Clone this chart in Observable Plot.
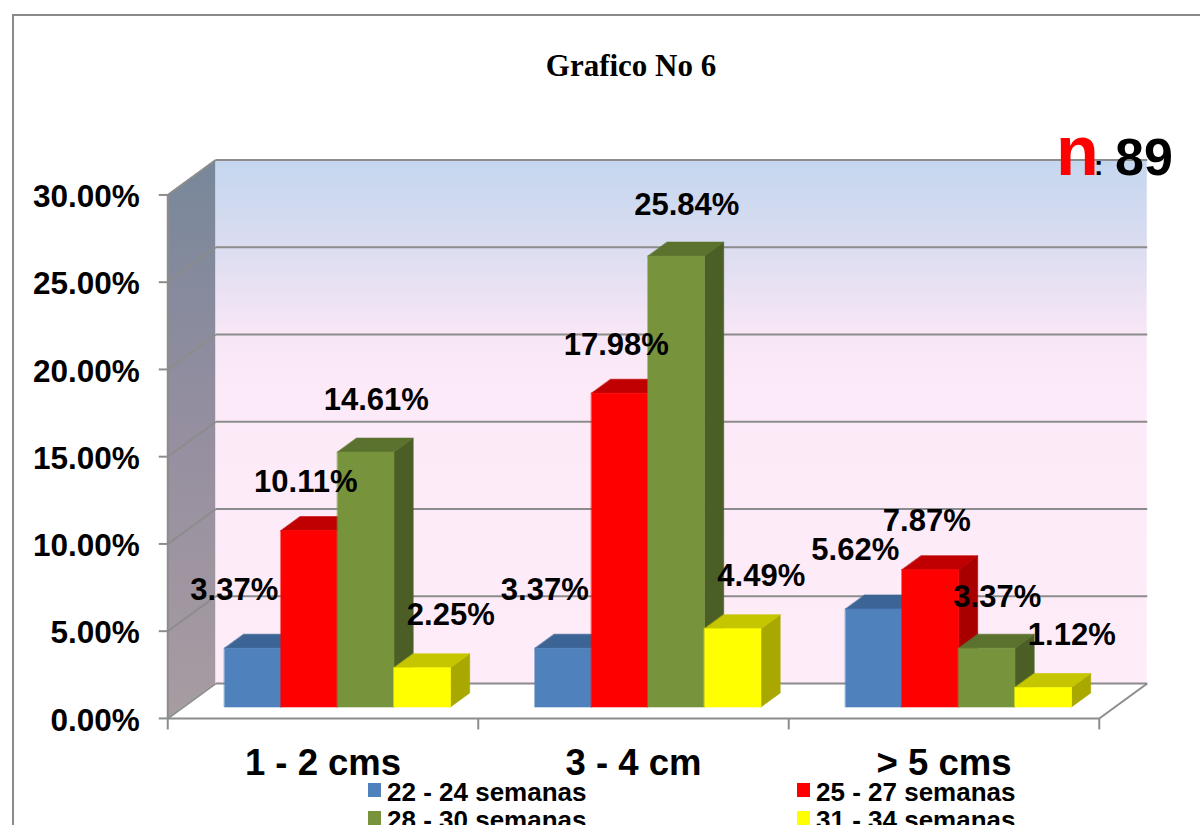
<!DOCTYPE html>
<html>
<head>
<meta charset="utf-8">
<script src="https://cdn.jsdelivr.net/npm/d3@7"></script>
<script src="https://cdn.jsdelivr.net/npm/@observablehq/plot@0.6"></script>
<style>
  html, body { margin: 0; padding: 0; background: #fff; }
  body { width: 1200px; height: 825px; overflow: hidden; position: relative;
         font-family: "Liberation Sans", Arial, sans-serif; color: #000; }
  #chart { position: absolute; left: 0; top: 0; }
  #frame { position: absolute; left: 12px; top: 14px; width: 1300px; height: 900px;
           border-top: 2px solid #8a8a8a; border-left: 2px solid #8a8a8a; pointer-events: none; }
  .abs { position: absolute; white-space: nowrap; line-height: 1; font-weight: bold; }
  #title { left: 381px; width: 500px; text-align: center; top: 50px;
           font-family: "Liberation Serif", "Times New Roman", serif; font-size: 31px; }
  .key { position: absolute; width: 13px; height: 14px; }
  .lab { position: absolute; font-size: 26px; font-weight: bold; line-height: 1; white-space: nowrap; }
</style>
</head>
<body>
<div id="chart"></div>
<div id="frame"></div>
<div id="title" class="abs"></div>
<div id="nlabel"></div>
<div id="legend"></div>
<script>
// ---------------- data ----------------
const chartTitle = "Grafico No 6";
const categories = ["1 - 2 cms", "3 - 4 cm", "> 5 cms"];
const seriesNames = ["22 - 24 semanas", "25 - 27 semanas", "28 - 30 semanas", "31 - 34 semanas"];
const s22_24 = [3.37, 3.37, 5.62];
const s25_27 = [10.11, 17.98, 7.87];
const s28_30 = [14.61, 25.84, 3.37];
const s31_34 = [2.25, 4.49, 1.12];
const yTicks = [0, 5, 10, 15, 20, 25, 30];
const sampleSize = 89;

// ---------------- style ----------------
const palette = [
  {front: "#4f81bd", top: "#3c6494", side: "#355a87"},
  {front: "#ff0000", top: "#c00000", side: "#a80000"},
  {front: "#77933c", top: "#5b722f", side: "#4a5e25"},
  {front: "#ffff00", top: "#c6c600", side: "#a8a800"}
];
const labelNudge = [ {dx: -19, dy: -59}, {dx: -4, dy: -49}, {dx: 10, dy: -52}, {dx: 28, dy: -53} ];
const series = [s22_24, s25_27, s28_30, s31_34];

const kx = 310.5, ky = 17.45;          // px per category unit, px per percent
const xStart = 182.25, yZero = 707;     // bar-plane origin
const zBar = 0.3125, depthPx = [48, 35], barDepth = 0.4;
const X = (x, z) => x + (z - zBar) * depthPx[0] / kx;
const Y = (y, z) => y + (z - zBar) * depthPx[1] / ky;
const bw = 56.5 / kx;
const yMax = d3.max(yTicks);
const nCat = categories.length;

const quad = (id, pts, fill) => [
  {id, fill, x1: pts[0][0], y1: pts[0][1], x2: pts[3][0], y2: pts[3][1]},
  {id, fill, x1: pts[1][0], y1: pts[1][1], x2: pts[2][0], y2: pts[2][1]}
];

// walls
const backWall = quad("back", [[X(0,1),Y(0,1)],[X(nCat,1),Y(0,1)],[X(nCat,1),Y(yMax,1)],[X(0,1),Y(yMax,1)]], "url(#backGrad)");
const leftWall = quad("left", [[X(0,0),Y(0,0)],[X(0,1),Y(0,1)],[X(0,1),Y(yMax,1)],[X(0,0),Y(yMax,0)]], "url(#leftGrad)");
const floor = quad("floor", [[X(0,0),Y(0,0)],[X(nCat,0),Y(0,0)],[X(nCat,1),Y(0,1)],[X(0,1),Y(0,1)]], "#ffffff");

// bars
const faces = [];
const labels = [];
categories.forEach((c, i) => {
  series.forEach((vals, j) => {
    const v = vals[i];
    const xa = i + 0.5 + (j - 2) * bw, xb = xa + bw;
    const za = zBar, zb = zBar + barDepth;
    const col = palette[j];
    faces.push(...quad(`s${i}${j}`, [[X(xb,za),Y(0,za)],[X(xb,zb),Y(0,zb)],[X(xb,zb),Y(v,zb)],[X(xb,za),Y(v,za)]], col.side));
    faces.push(...quad(`t${i}${j}`, [[X(xa,za),Y(v,za)],[X(xb,za),Y(v,za)],[X(xb,zb),Y(v,zb)],[X(xa,zb),Y(v,zb)]], col.top));
    faces.push(...quad(`f${i}${j}`, [[X(xa,za),Y(0,za)],[X(xb,za),Y(0,za)],[X(xb,za),Y(v,za)],[X(xa,za),Y(v,za)]], col.front));
    labels.push({s: j, x: (xa + xb) / 2, y: v, text: d3.format(".2f")(v) + "%"});
  });
});

// lines
const gridBack = yTicks.map(v => ({x1: X(0,1), y1: Y(v,1), x2: X(nCat,1), y2: Y(v,1)}));
const gridLeft = yTicks.map(v => ({x1: X(0,0), y1: Y(v,0), x2: X(0,1), y2: Y(v,1)}));
const tickY = yTicks.map(v => ({x1: X(0,0) - 9 / kx, y1: Y(v,0), x2: X(0,0), y2: Y(v,0)}));
const tickX = d3.range(nCat + 1).map(i => ({x1: X(i,0), y1: Y(0,0), x2: X(i,0), y2: Y(0,0) - 11 / ky}));
const edges = [
  {x1: X(0,0), y1: Y(0,0), x2: X(0,0), y2: Y(yMax,0)},
  {x1: X(0,0), y1: Y(0,0), x2: X(nCat,0), y2: Y(0,0)},
  {x1: X(nCat,0), y1: Y(0,0), x2: X(nCat,1), y2: Y(0,1)}
];

const defs = () => {
  const d = d3.create("svg:defs");
  const g1 = d.append("linearGradient").attr("id", "backGrad").attr("x1", 0).attr("y1", 0).attr("x2", 0).attr("y2", 1);
  [[0, "#c4d7ef"], [0.16, "#dadcf0"], [0.32, "#f6e6f6"], [0.45, "#fdeaf8"], [1, "#feecf9"]]
    .forEach(([o, c]) => g1.append("stop").attr("offset", o).attr("stop-color", c));
  const g2 = d.append("linearGradient").attr("id", "leftGrad").attr("x1", 0).attr("y1", 0).attr("x2", 0).attr("y2", 1);
  [[0, "#78879a"], [0.5, "#968fa0"], [1, "#a89ca2"]]
    .forEach(([o, c]) => g2.append("stop").attr("offset", o).attr("stop-color", c));
  return d.node();
};

const gridStroke = "#8c8c8c";
const areaOpts = {x1: "x1", y1: "y1", x2: "x2", y2: "y2", z: "id", fill: "fill"};
const linkOpts = {x1: "x1", y1: "y1", x2: "x2", y2: "y2", stroke: gridStroke, strokeWidth: 2};
const fontFamily = "Liberation Sans, Arial, sans-serif";

const plot = Plot.plot({
  width: 1200, height: 825,
  marginTop: 0, marginRight: 0, marginBottom: 0, marginLeft: 0,
  x: {type: "linear", domain: [0, nCat], range: [xStart, xStart + nCat * kx], axis: null},
  y: {type: "linear", domain: [0, yMax], range: [yZero, yZero - yMax * ky], axis: null},
  color: {type: "identity"},
  style: {background: "transparent", overflow: "visible"},
  marks: [
    defs,
    Plot.area(backWall, areaOpts),
    Plot.area(leftWall, areaOpts),
    Plot.area(floor, areaOpts),
    Plot.link(gridBack, linkOpts),
    Plot.link(gridLeft, linkOpts),
    Plot.link(tickY, linkOpts),
    Plot.link(tickX, linkOpts),
    Plot.link(edges, linkOpts),
    Plot.area(faces, {...areaOpts, stroke: "fill", strokeWidth: 0.6}),
    Plot.text(yTicks, {
      x: () => X(0,0), y: v => Y(v,0), text: v => d3.format(".2%")(v / 100),
      textAnchor: "end", dx: -28, dy: 2, fontSize: 31.5, fontWeight: "bold", fontFamily, fill: "#000"
    }),
    Plot.text(categories, {
      x: (c, i) => X(i + 0.5, 0), y: () => Y(0,0), text: c => c,
      dy: 45, fontSize: 36.5, fontWeight: "bold", fontFamily, fill: "#000"
    }),
    ...labelNudge.map((n, j) => Plot.text(labels.filter(d => d.s === j), {
      x: "x", y: "y", text: "text", dx: n.dx, dy: n.dy,
      fontSize: 31, fontWeight: "bold", fontFamily, fill: "#000"
    }))
  ]
});
document.getElementById("chart").append(plot);

// title
document.getElementById("title").textContent = chartTitle;

// n label
const nl = document.getElementById("nlabel");
const mk = (txt, left, top, size, color) => {
  const s = document.createElement("div");
  s.className = "abs"; s.textContent = txt;
  Object.assign(s.style, {left: left + "px", top: top + "px", fontSize: size + "px", color});
  nl.append(s);
};
mk("n", 1056, 116, 70, "#ff0000");
mk(":", 1094, 152, 28, "#000");
mk(String(sampleSize), 1115, 131, 52, "#000");

// legend
const lg = document.getElementById("legend");
const legendPos = [[368, 783], [797, 783], [368, 811], [797, 811]];
seriesNames.forEach((name, j) => {
  const [lx, ly] = legendPos[j];
  const k = document.createElement("div");
  k.className = "key";
  Object.assign(k.style, {left: lx + "px", top: ly + "px", background: palette[j].front});
  lg.append(k);
  const t = document.createElement("div");
  t.className = "lab"; t.textContent = name;
  Object.assign(t.style, {left: (lx + 19) + "px", top: (ly - 4) + "px"});
  lg.append(t);
});
</script>
</body>
</html>
